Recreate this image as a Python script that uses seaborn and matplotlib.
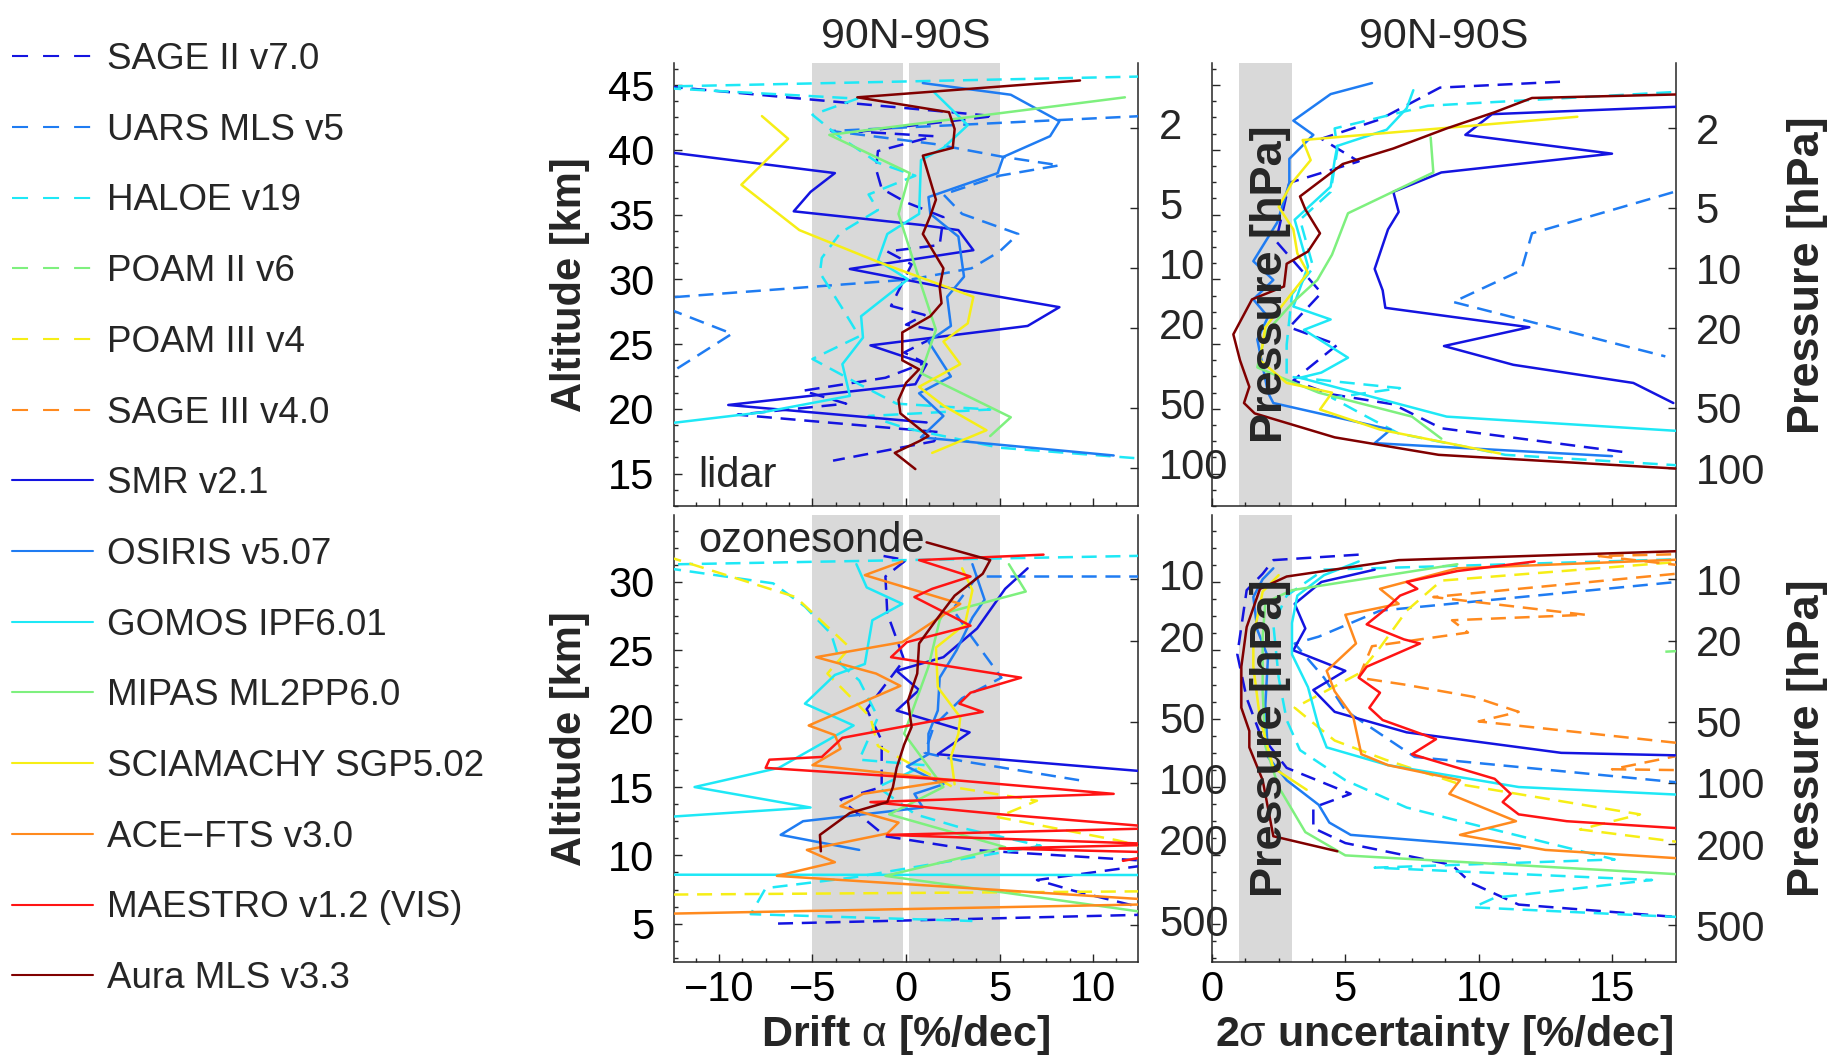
import numpy as np
import pandas as pd
import matplotlib
matplotlib.use("Agg")
import matplotlib.pyplot as plt
import matplotlib.transforms as mtransforms
from matplotlib.lines import Line2D
from matplotlib.ticker import AutoMinorLocator, NullLocator
import seaborn as sns

# ---------------------------------------------------------------- instruments
instrument_keys = ["sage2", "uars", "haloe", "poam2", "poam3", "sage3",
                   "smr", "osiris", "gomos", "mipas", "scia", "acefts",
                   "maestro", "aura"]
instrument_labels = ["SAGE II v7.0", "UARS MLS v5", "HALOE v19", "POAM II v6",
                     "POAM III v4", "SAGE III v4.0", "SMR v2.1", "OSIRIS v5.07",
                     "GOMOS IPF6.01", "MIPAS ML2PP6.0", "SCIAMACHY SGP5.02",
                     "ACE\u2212FTS v3.0", "MAESTRO v1.2 (VIS)", "Aura MLS v3.3"]
instrument_colors = ["#1414e0", "#1f7cf2", "#1ee8f6", "#7ef07e", "#f6ee16",
                     "#ff8a1e", "#1414e0", "#1f7cf2", "#1ee8f6", "#7ef07e",
                     "#f6ee16", "#ff8a1e", "#ff1414", "#800000"]
instrument_dashed = [True] * 6 + [False] * 8

# ---------------------------------------------------- lidar: drift (%/dec, km)
ld_sage2 = [(-14.0, 45.05), (4.7, 42.6), (-2.5, 41.4), (1.5, 41.05), (-1.5, 39.9),
            (-1.6, 38.5), (-1.3, 37.0), (0.0, 35.95), (2.0, 34.8), (1.8, 32.65),
            (-1.0, 32.15), (0.3, 31.15), (-0.8, 27.95), (1.0, 27.25), (0.0, 26.5),
            (1.5, 26.1), (1.6, 25.6), (-0.1, 24.35), (1.0, 23.55), (-1.1, 22.4),
            (-5.5, 21.4), (-3.2, 20.4), (-9.0, 19.55), (1.8, 18.2), (1.5, 17.5),
            (-3.9, 16.0)]
ld_uars = [(14.0, 42.7), (-4.0, 41.45), (1.5, 40.45), (5.2, 39.45), (8.2, 38.8),
           (5.0, 38.0), (2.0, 36.55), (3.0, 35.05), (6.0, 33.5), (5.0, 32.15),
           (3.5, 30.85), (0.3, 30.0), (-14.0, 28.45), (-9.3, 25.8), (-12.3, 23.05)]
ld_haloe = [(14.0, 45.7), (-14.0, 44.85), (-2.6, 43.95), (-5.0, 42.7), (-3.5, 40.95),
            (-1.5, 39.0), (0.5, 38.0), (-2.0, 36.55), (-1.5, 35.35), (-3.5, 33.6),
            (-4.5, 31.65), (-4.6, 30.5), (-3.4, 27.75), (-2.5, 25.6), (-5.0, 23.85),
            (-2.5, 21.9), (-0.5, 20.4), (4.5, 19.95), (-2.0, 19.45), (0.0, 18.5),
            (5.0, 17.0), (14.0, 16.0)]
ld_smr = [(-14.0, 40.05), (-3.8, 38.2), (-5.1, 36.75), (-6.0, 35.25), (0.8, 34.2),
          (2.8, 33.8), (3.6, 32.25), (-3.0, 30.8), (2.0, 29.4), (8.2, 27.85),
          (6.5, 26.4), (-1.9, 24.9), (1.1, 23.45), (0.5, 21.9), (-9.5, 20.3),
          (1.1, 18.95)]
ld_osiris = [(0.9, 45.15), (5.6, 44.25), (8.2, 42.2), (7.7, 41.05), (5.2, 39.45),
             (4.9, 38.2), (1.2, 36.35), (1.3, 35.05), (2.8, 33.3), (3.1, 30.2),
             (2.2, 28.65), (2.4, 26.4), (1.2, 25.2), (2.4, 22.5), (0.7, 21.2),
             (2.0, 19.45), (0.8, 17.8), (11.1, 16.4)]
ld_gomos = [(1.5, 44.45), (3.3, 41.9), (2.0, 40.15), (0.8, 39.2), (0.7, 35.05),
            (-1.0, 33.5), (-1.5, 31.45), (0.1, 30.0), (-2.4, 27.15), (-2.3, 25.5),
            (-3.4, 23.45), (-3.0, 21.0), (-7.6, 19.75), (-14.0, 18.65)]
ld_mipas = [(11.7, 44.05), (-4.1, 41.15), (0.2, 38.2), (-0.4, 35.05), (0.6, 30.5),
            (1.6, 26.1), (0.8, 22.75), (5.6, 19.35), (4.5, 17.9)]
ld_scia = [(-7.7, 42.6), (-6.3, 40.85), (-8.8, 37.3), (-5.7, 33.8), (-1.5, 31.35),
           (3.6, 28.65), (3.3, 26.6), (2.0, 25.2), (2.9, 23.45), (0.7, 21.7),
           (2.0, 20.25), (4.3, 18.35), (1.4, 16.6)]
ld_aura = [(9.3, 45.35), (-2.6, 44.05), (2.3, 42.9), (2.6, 41.6), (2.5, 40.15),
           (0.9, 39.55), (1.6, 36.15), (1.3, 34.9), (0.9, 33.5), (2.0, 30.85),
           (1.8, 29.4), (1.9, 28.15), (1.3, 27.15), (-0.2, 25.9), (-0.2, 23.75),
           (0.7, 23.05), (0.0, 22.0), (-0.4, 20.7), (-0.3, 19.65), (1.2, 17.9),
           (0.7, 17.5), (-0.6, 16.6), (0.5, 15.35)]

# ---------------------------------------------- lidar: 2-sigma uncertainty
lu_sage2 = [(13.05, 45.25), (8.55, 44.8), (6.3, 42.35), (4.1, 40.85), (5.5, 39.1),
            (2.9, 37.45), (2.4, 32.95), (4.1, 28.95), (2.9, 26.3), (4.7, 24.95),
            (3.05, 22.2), (4.4, 21.15), (6.8, 20.35), (8.6, 18.5), (15.5, 16.65)]
lu_uars = [(19.0, 37.75), (12.0, 33.55), (11.6, 30.7), (9.05, 28.25), (17.0, 24.05)]
lu_haloe = [(19.0, 44.65), (8.1, 43.4), (4.6, 41.65), (4.7, 40.0), (4.45, 36.75),
            (3.3, 34.6), (3.8, 30.9), (3.0, 28.85), (2.8, 24.95), (2.8, 22.5),
            (7.05, 21.6), (4.5, 20.85), (5.8, 19.4), (7.0, 18.1), (11.0, 16.45),
            (19.0, 15.45)]
lu_smr = [(19.0, 43.45), (10.5, 42.75), (9.5, 41.15), (15.0, 39.7), (8.6, 38.25),
          (6.8, 36.75), (7.0, 35.2), (6.6, 33.85), (6.1, 30.8), (6.4, 29.15),
          (6.5, 27.8), (11.9, 26.3), (8.7, 24.85), (11.3, 23.4), (15.8, 22.0),
          (17.3, 20.45)]
lu_osiris = [(6.0, 45.15), (4.45, 44.3), (3.05, 42.25), (3.8, 41.15), (2.9, 39.3),
             (2.9, 37.45), (2.45, 34.4), (1.55, 31.4), (2.3, 29.95), (1.55, 28.45),
             (2.1, 27.1), (1.7, 25.35), (2.1, 21.25), (2.3, 20.45), (6.7, 18.4),
             (6.1, 17.35), (15.0, 16.35)]
lu_gomos = [(7.55, 44.6), (7.3, 43.2), (6.55, 41.55), (4.7, 40.3), (4.6, 39.2),
            (4.45, 37.15), (3.1, 34.6), (3.6, 31.0), (3.05, 27.9), (4.45, 26.9),
            (3.45, 26.1), (5.1, 23.95), (4.1, 22.8), (3.3, 22.4), (8.8, 19.4),
            (19.0, 18.1)]
lu_mipas = [(8.2, 40.95), (8.3, 38.25), (5.1, 35.1), (4.5, 31.9), (3.95, 29.95),
            (3.05, 28.25), (2.0, 25.85), (1.7, 23.2), (2.5, 22.5), (4.0, 21.25),
            (7.5, 19.4), (8.6, 17.7)]
lu_scia = [(13.7, 42.55), (3.4, 40.75), (3.7, 39.2), (3.0, 37.45), (2.5, 35.6),
           (3.05, 33.85), (3.2, 32.0), (3.6, 30.5), (3.0, 28.95), (2.0, 26.3),
           (1.8, 23.75), (2.8, 22.0), (4.5, 21.25), (4.05, 19.95), (6.3, 18.4),
           (10.8, 16.55)]
lu_aura = [(19.0, 44.35), (12.0, 44.0), (10.6, 42.9), (8.8, 41.65), (6.8, 40.1),
           (4.9, 38.9), (3.3, 36.4), (3.5, 35.4), (4.05, 33.55), (3.6, 32.15),
           (2.8, 31.2), (2.7, 29.45), (1.5, 28.45), (0.8, 25.75), (1.05, 23.75),
           (1.4, 21.7), (1.2, 20.45), (1.6, 19.65), (4.6, 17.8), (8.5, 16.45),
           (19.0, 15.2)]

# ----------------------------------------------- ozonesonde: drift (%/dec, km)
od_sage2 = [(-1.2, 31.9), (0.0, 31.6), (-1.1, 30.4), (-1.0, 27.7), (-0.1, 24.3),
            (-2.1, 20.7), (-1.3, 18.4), (-1.3, 15.0), (-3.5, 14.1), (-1.1, 11.4),
            (3.55, 10.4), (14.0, 9.5), (7.0, 8.2), (9.0, 7.4), (14.0, 5.7),
            (-7.2, 5.0)]
od_uars = [(14.0, 30.4), (3.8, 30.4), (2.5, 28.0), (3.5, 26.0), (5.1, 23.0),
           (3.0, 21.5), (1.5, 19.5), (1.0, 17.5), (3.0, 16.9), (9.25, 15.5)]
od_haloe = [(14.0, 31.95), (-14.0, 31.25), (-7.1, 29.9), (-5.4, 28.2),
            (-4.0, 26.2), (-3.5, 24.0), (-2.5, 22.8), (-1.5, 20.1), (-2.5, 17.0),
            (1.0, 16.6), (-1.5, 15.0), (0.5, 13.0), (3.0, 12.0), (7.2, 10.7),
            (-2.75, 8.4), (-7.5, 7.6), (-8.3, 5.7), (3.55, 5.2)]
od_poam3 = [(-14.0, 32.4), (-5.9, 28.9), (-3.0, 25.2), (-4.2, 23.3), (-1.9, 20.1),
            (-1.5, 18.0), (2.5, 15.0), (7.0, 14.0), (4.9, 12.8), (11.3, 11.1),
            (16.0, 9.5), (16.0, 7.4), (-16.0, 7.1)]
od_smr = [(6.5, 31.0), (5.3, 29.5), (3.8, 26.6), (2.0, 24.5), (-0.5, 23.5),
          (0.7, 22.1), (-0.5, 20.6), (0.7, 20.1), (3.4, 19.0), (1.7, 17.4),
          (14.0, 16.0)]
od_osiris = [(3.55, 31.3), (4.2, 28.7), (3.55, 27.4), (2.7, 25.0), (1.8, 23.0),
             (1.7, 20.6), (1.2, 18.9), (1.2, 17.4), (0.05, 16.5), (2.0, 15.2),
             (0.45, 14.5), (0.9, 13.5), (-5.5, 12.5), (-6.7, 11.5), (-2.5, 10.4)]
od_gomos = [(-2.65, 31.3), (-2.1, 29.6), (-0.2, 28.4), (-1.8, 27.2), (-2.2, 24.0),
            (-3.8, 23.2), (-5.4, 21.1), (-2.8, 19.5), (-6.8, 16.4), (-11.3, 15.0),
            (-5.1, 13.5), (-14.0, 12.7), (-20.0, 9.0), (-30.0, 8.6), (30.0, 8.55)]
od_mipas = [(5.5, 31.3), (6.4, 29.3), (2.0, 27.7), (1.8, 27.2), (1.2, 23.8),
            (-0.1, 18.9), (2.0, 15.0), (-0.9, 13.0), (5.3, 10.6), (-1.1, 8.5),
            (14.0, 5.6)]
od_scia = [(3.0, 31.0), (3.55, 29.4), (3.15, 26.9), (1.6, 25.2), (1.7, 22.3),
           (2.9, 20.1), (2.8, 18.9), (2.4, 17.2), (2.6, 15.2)]
od_acefts = [(-0.2, 31.5), (-2.2, 30.5), (2.9, 28.4), (-0.2, 25.6), (-4.8, 24.5),
             (-1.6, 23.3), (-0.3, 22.4), (-5.2, 19.5), (-3.8, 18.8), (-3.5, 17.8),
             (-5.0, 16.6), (2.5, 15.5), (-2.3, 14.5), (-3.5, 13.6), (-0.4, 12.4),
             (-1.0, 11.6), (-5.3, 10.4), (-3.8, 9.5), (-6.9, 8.5), (16.0, 6.5),
             (-14.0, 5.7)]
od_maestro = [(7.35, 32.0), (0.7, 31.6), (3.45, 30.4), (1.4, 29.5), (0.45, 28.9),
              (3.45, 26.8), (0.05, 25.6), (-0.8, 24.5), (6.15, 23.0), (3.45, 21.9),
              (2.85, 21.1), (4.1, 20.5), (-3.4, 18.6), (-4.5, 17.2), (-7.3, 17.0),
              (-7.5, 16.4), (2.6, 15.5), (11.1, 14.5), (-1.9, 13.9), (5.1, 13.0),
              (14.0, 12.0), (-1.0, 11.5), (14.0, 10.8), (5.0, 10.5), (14.0, 10.2),
              (11.6, 9.6)]
od_aura = [(1.1, 32.9), (4.5, 31.6), (4.1, 30.6), (2.6, 29.0), (1.6, 27.2),
           (0.7, 25.5), (0.6, 23.3), (0.1, 21.3), (0.3, 19.4), (-0.1, 18.1),
           (-0.5, 16.4), (-0.7, 15.0), (-1.0, 13.9), (-3.0, 13.1), (-4.6, 11.5),
           (-4.55, 10.3)]

# ------------------------------------------ ozonesonde: 2-sigma uncertainty
ou_sage2 = [(5.5, 32.0), (2.3, 31.6), (1.9, 30.6), (1.3, 29.4), (0.95, 24.7),
            (1.3, 21.5), (1.8, 18.9), (2.8, 16.4), (5.2, 14.5), (3.8, 13.5),
            (3.8, 12.0), (5.0, 10.9), (9.0, 9.3), (9.7, 8.0), (11.5, 6.4),
            (19.0, 5.25)]
ou_uars = [(19.0, 30.3), (6.3, 27.9), (4.0, 26.0), (3.1, 25.5), (4.2, 23.0),
           (5.0, 20.6), (7.6, 17.2), (19.0, 15.05)]
ou_haloe = [(19.0, 31.75), (4.2, 30.9), (2.8, 29.0), (2.3, 26.9), (2.5, 23.0),
            (2.8, 19.9), (3.3, 17.7), (5.0, 15.5), (7.3, 13.5), (9.3, 12.5),
            (15.1, 9.7), (6.1, 9.1), (16.5, 8.2), (10.6, 6.9), (9.8, 6.2),
            (19.0, 5.35)]
ou_poam2 = [(17.0, 24.9), (19.0, 25.1)]
ou_poam3 = [(19.0, 31.7), (8.6, 30.1), (7.3, 27.9), (6.3, 25.2), (5.5, 23.3),
            (3.1, 20.8), (4.6, 18.4), (6.5, 17.0), (9.3, 15.2), (16.05, 13.0),
            (13.8, 11.9), (19.0, 10.6)]
ou_sage3 = [(19.0, 32.1), (14.5, 31.9), (19.0, 30.9), (8.3, 28.9), (14.0, 27.6),
            (9.0, 27.2), (9.6, 26.3), (6.0, 25.3), (5.5, 23.0), (7.2, 22.5),
            (9.8, 21.6), (11.5, 20.5), (10.0, 19.8), (19.0, 17.9), (15.0, 16.3),
            (19.0, 16.2), (19.0, 15.3)]
ou_smr = [(6.1, 30.9), (4.1, 30.0), (3.1, 28.4), (3.5, 26.6), (3.05, 25.0),
          (5.0, 23.5), (3.8, 22.1), (4.6, 20.5), (7.3, 19.0), (13.1, 17.5),
          (19.0, 17.25)]
ou_osiris = [(2.3, 31.0), (1.9, 30.2), (1.55, 28.9), (1.7, 26.5), (2.1, 24.5),
             (2.0, 21.0), (2.1, 17.2), (2.8, 15.5), (4.0, 13.7), (4.4, 12.4),
             (5.2, 11.5), (11.55, 10.5)]
ou_gomos = [(5.5, 31.5), (4.2, 30.5), (3.2, 29.0), (3.0, 27.0), (3.0, 24.7),
            (3.6, 22.3), (4.0, 19.4), (4.3, 17.9), (6.6, 16.6), (11.5, 15.0),
            (19.0, 14.3)]
ou_mipas = [(9.2, 31.3), (3.0, 29.4), (2.0, 28.5), (1.9, 26.0), (1.9, 22.0),
            (2.0, 18.0), (2.5, 15.0), (3.5, 11.7), (5.0, 10.0), (19.0, 8.45)]
ou_scia = [(2.5, 30.5), (1.9, 29.3), (1.55, 26.0), (1.55, 23.8), (1.8, 20.0),
           (2.3, 16.4), (3.55, 14.8)]
ou_acefts = [(19.0, 31.75), (9.2, 31.0), (6.3, 29.5), (7.0, 28.4), (5.0, 27.6),
             (5.4, 25.5), (4.3, 23.5), (4.6, 22.0), (5.3, 20.1), (5.6, 17.4),
             (6.6, 16.6), (9.3, 15.5), (8.9, 14.5), (11.4, 12.5), (9.3, 11.5),
             (12.5, 10.4), (19.0, 9.6)]
ou_maestro = [(12.1, 31.5), (9.2, 30.8), (7.3, 30.0), (7.7, 29.5), (7.05, 29.0),
              (6.5, 28.0), (5.8, 26.9), (7.2, 25.8), (7.8, 25.5), (5.8, 23.8),
              (5.5, 23.0), (6.3, 21.9), (5.9, 20.8), (6.4, 19.9), (8.4, 18.5),
              (7.5, 17.4), (10.6, 15.6), (11.2, 14.5), (10.9, 13.9), (11.5, 13.0),
              (13.3, 12.5), (19.0, 11.8)]
ou_aura = [(19.0, 32.35), (7.0, 31.6), (2.8, 30.4), (1.8, 29.5), (1.3, 26.7),
           (1.1, 23.8), (1.1, 20.8), (1.4, 19.1), (1.4, 17.9), (1.9, 15.5),
           (2.3, 11.4), (4.7, 10.3)]

# ------------------------------------------------------------ axes settings
drift_ticks = [-10, -5, 0, 5, 10]
unc_ticks = [0, 5, 10, 15]
lidar_alt_ticks = [15, 20, 25, 30, 35, 40, 45]
sonde_alt_ticks = [5, 10, 15, 20, 25, 30]
lidar_p_ticks = [2, 5, 10, 20, 50, 100]
sonde_p_ticks = [10, 20, 50, 100, 200, 500]
lidar_p_fit = (46.31, 15.44)   # altitude = z0 - H * log10(p)
sonde_p_fit = (45.1, 14.9)

panels = {
    "lidar_drift": dict(sage2=ld_sage2, uars=ld_uars, haloe=ld_haloe, smr=ld_smr,
                        osiris=ld_osiris, gomos=ld_gomos, mipas=ld_mipas,
                        scia=ld_scia, aura=ld_aura),
    "lidar_unc": dict(sage2=lu_sage2, uars=lu_uars, haloe=lu_haloe, smr=lu_smr,
                      osiris=lu_osiris, gomos=lu_gomos, mipas=lu_mipas,
                      scia=lu_scia, aura=lu_aura),
    "sonde_drift": dict(sage2=od_sage2, uars=od_uars, haloe=od_haloe,
                        poam3=od_poam3, smr=od_smr, osiris=od_osiris,
                        gomos=od_gomos, mipas=od_mipas, scia=od_scia,
                        acefts=od_acefts, maestro=od_maestro, aura=od_aura),
    "sonde_unc": dict(sage2=ou_sage2, uars=ou_uars, haloe=ou_haloe, poam2=ou_poam2,
                      poam3=ou_poam3, sage3=ou_sage3, smr=ou_smr,
                      osiris=ou_osiris, gomos=ou_gomos, mipas=ou_mipas,
                      scia=ou_scia, acefts=ou_acefts, maestro=ou_maestro,
                      aura=ou_aura),
}

# ------------------------------------------------------------------ styling
sns.set_style("ticks")
plt.rcParams["font.family"] = ["Liberation Sans", "DejaVu Sans"]
plt.rcParams["mathtext.fontset"] = "custom"
plt.rcParams["mathtext.rm"] = "Liberation Sans"
plt.rcParams["mathtext.bf"] = "Liberation Sans:bold"

FS = 30
FS_PLABEL = 32.5
FS_XLABEL = 31
SPINE = "#262626"
BAND = "#d9d9d9"
DASH_PLOT = (0, (6, 3.5))
DASH_LEG = (0, (7.7, 7.2))

fig = plt.figure(figsize=(18.35, 10.6), dpi=100)
W_PX, H_PX = 1835.0, 1060.0
left_x, right_x, ax_w = 674 / W_PX, 1212 / W_PX, 464 / W_PX
top_y0, top_h = 1 - 506 / H_PX, 443 / H_PX
bot_y0, bot_h = 1 - 962 / H_PX, 447 / H_PX

ax_ld = fig.add_axes([left_x, top_y0, ax_w, top_h])
ax_lu = fig.add_axes([right_x, top_y0, ax_w, top_h])
ax_od = fig.add_axes([left_x, bot_y0, ax_w, bot_h])
ax_ou = fig.add_axes([right_x, bot_y0, ax_w, bot_h])


def draw_profiles(ax, profiles):
    for key in instrument_keys:
        if key not in profiles:
            continue
        i = instrument_keys.index(key)
        df = pd.DataFrame(profiles[key], columns=["value", "alt"])
        sns.lineplot(data=df, x="value", y="alt", sort=False, estimator=None,
                     ax=ax, color=instrument_colors[i], linewidth=1.8,
                     linestyle=DASH_PLOT if instrument_dashed[i] else "-",
                     legend=False, zorder=3)
    ax.set_xlabel("")
    ax.set_ylabel("")


def style_axes(ax, xlim, ylim, xticks, alt_ticks, p_fit, p_ticks,
               label_x, label_alt, label_p):
    ax.set_xlim(xlim)
    ax.set_ylim(ylim)
    ax.spines["top"].set_visible(False)
    for s in ("left", "right", "bottom"):
        ax.spines[s].set_linewidth(1.1)
        ax.spines[s].set_color(SPINE)
    ax.set_xticks(xticks)
    ax.set_yticks(alt_ticks)
    ax.xaxis.set_minor_locator(AutoMinorLocator(4))
    ax.yaxis.set_minor_locator(AutoMinorLocator(4))
    ax.tick_params(which="both", direction="in", top=False, right=False,
                   color=SPINE, labelsize=FS, labelcolor="black")
    ax.tick_params(which="major", length=6, width=1)
    ax.tick_params(which="minor", length=3, width=1)
    ax.tick_params(axis="y", pad=14, labelleft=label_alt)
    ax.tick_params(axis="x", pad=6, labelbottom=label_x)

    z0, H = p_fit
    sec = ax.secondary_yaxis(
        "right",
        functions=(lambda z: 10 ** ((z0 - np.asarray(z)) / H),
                   lambda p: z0 - H * np.log10(np.clip(p, 1e-6, None))))
    sec.set_yticks(p_ticks, labels=[str(p) for p in p_ticks])
    sec.yaxis.set_minor_locator(NullLocator())
    sec.spines["right"].set_visible(False)
    sec.tick_params(direction="in", length=6, width=1, color=SPINE,
                    labelsize=FS, pad=14, labelright=label_p)
    return sec


for name, ax in (("lidar_drift", ax_ld), ("sonde_drift", ax_od)):
    ax.axvspan(-5, -0.15, color=BAND, lw=0, zorder=0)
    ax.axvspan(0.15, 5, color=BAND, lw=0, zorder=0)
    draw_profiles(ax, panels[name])
for name, ax in (("lidar_unc", ax_lu), ("sonde_unc", ax_ou)):
    ax.axvspan(1, 3, color=BAND, lw=0, zorder=0)
    draw_profiles(ax, panels[name])

style_axes(ax_ld, (-12.4, 12.4), (12.5, 46.7), drift_ticks, lidar_alt_ticks,
           lidar_p_fit, lidar_p_ticks, False, True, False)
style_axes(ax_od, (-12.4, 12.4), (2.2, 34.9), drift_ticks, sonde_alt_ticks,
           sonde_p_fit, sonde_p_ticks, True, True, False)
style_axes(ax_lu, (0, 17.4), (12.5, 46.7), unc_ticks, lidar_alt_ticks,
           lidar_p_fit, lidar_p_ticks, False, False, True)
style_axes(ax_ou, (0, 17.4), (2.2, 34.9), unc_ticks, sonde_alt_ticks,
           sonde_p_fit, sonde_p_ticks, True, False, True)

# pressure values printed again just inside the left edge of the uncertainty panels
for ax, (z0, H), ticks, ymid in ((ax_lu, lidar_p_fit, lidar_p_ticks, 0.52),
                                 (ax_ou, sonde_p_fit, sonde_p_ticks, 0.5)):
    trans = mtransforms.blended_transform_factory(ax.transAxes, ax.transData)
    for p in ticks:
        ax.text(-0.114, z0 - H * np.log10(p), str(p), transform=trans,
                ha="left", va="center", fontsize=FS, clip_on=False, zorder=5)
    ax.text(0.125, 0.5, "Pressure [hPa]", transform=ax.transAxes, rotation=90,
            ha="center", va="center", fontsize=FS_PLABEL, fontweight="bold",
            zorder=6)
    ax.text(1.284, ymid, "Pressure [hPa]", transform=ax.transAxes, rotation=90,
            ha="center", va="center", fontsize=FS_PLABEL, fontweight="bold",
            clip_on=False)

for ax in (ax_ld, ax_od):
    ax.text(-0.224, 0.5, "Altitude [km]", transform=ax.transAxes, rotation=90,
            ha="center", va="center", fontsize=FS, fontweight="bold")

ax_ld.set_title("90N-90S", fontsize=31, pad=11)
ax_lu.set_title("90N-90S", fontsize=31, pad=11)

ax_ld.text(-11.1, 14.0, "lidar", fontsize=FS, ha="left", va="baseline", zorder=6)
ax_od.text(-11.1, 32.2, "ozonesonde", fontsize=FS, ha="left", va="baseline",
           zorder=6)

ax_od.text(0.5, -0.163, r"Drift $\mathrm{\alpha}$ [%/dec]", transform=ax_od.transAxes,
           ha="center", va="center", fontsize=FS_XLABEL, fontweight="bold")
ax_ou.text(0.5, -0.163, r"2$\mathrm{\sigma}$ uncertainty [%/dec]",
           transform=ax_ou.transAxes, ha="center", va="center",
           fontsize=FS_XLABEL, fontweight="bold")

# instrument legend on the left
handles = [Line2D([], [], color=c, linewidth=1.5,
                  linestyle=DASH_LEG if d else "-")
           for c, d in zip(instrument_colors, instrument_dashed)]
fig.legend(handles, instrument_labels, loc="upper left",
           bbox_to_anchor=(12 / W_PX, 1 - 42 / H_PX), frameon=False,
           fontsize=26.5, handlelength=2.2, handletextpad=0.38,
           labelspacing=0.97, borderpad=0, borderaxespad=0)

fig.savefig("out.png", dpi=100, facecolor="white")
